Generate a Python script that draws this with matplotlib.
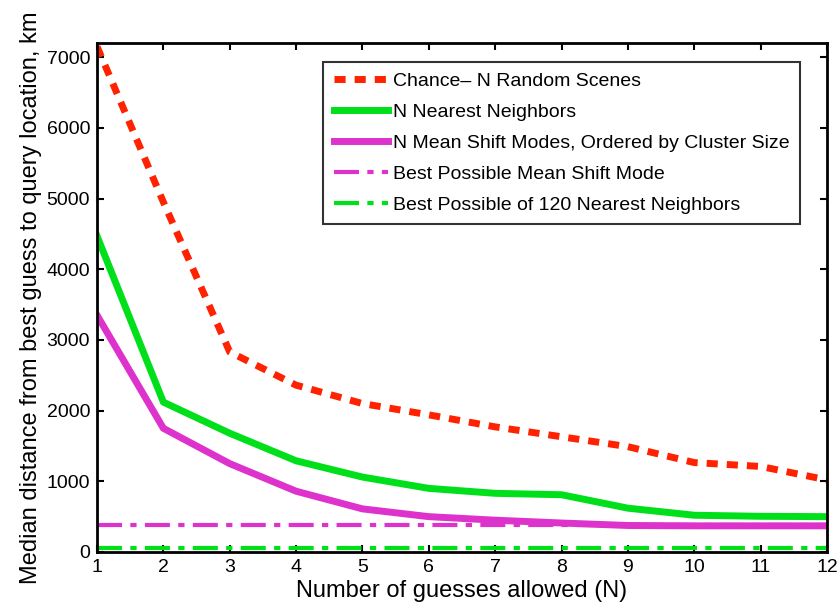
import matplotlib
matplotlib.use("Agg")
import matplotlib.pyplot as plt
import numpy as np

plt.rcParams['font.family'] = ['Liberation Sans', 'DejaVu Sans']

N = [1, 2, 3, 4, 5, 6, 7, 8, 9, 10, 11, 12]
chance = [7150, 4950, 2830, 2360, 2100, 1940, 1770, 1630, 1490, 1265, 1210, 1020]
nearest = [4470, 2120, 1680, 1290, 1060, 900, 830, 810, 620, 520, 505, 500]
meanshift = [3350, 1750, 1250, 860, 610, 500, 450, 410, 375, 370, 370, 370]
best_ms = 380
best_nn = 60

xticks = list(range(1, 13))
yticks = [0, 1000, 2000, 3000, 4000, 5000, 6000, 7000]

fig = plt.figure(figsize=(8.39, 6.06), dpi=100)
ax = fig.add_axes([97/839, 1-552/606, (827-97)/839, (552-43)/606])

ax.plot(N, chance, color='#ff2200', lw=5, ls=(0, (1.6, 1.3)), label='Chance\u2013 N Random Scenes')
ax.plot(N, nearest, color='#00e01a', lw=5, label='N Nearest Neighbors')
ax.plot(N, meanshift, color='#dd33cc', lw=5, label='N Mean Shift Modes, Ordered by Cluster Size')
ax.plot([N[0], N[-1]], [best_ms, best_ms], color='#dd33cc', lw=3, ls=(0, (6, 2, 1.5, 2)), label='Best Possible Mean Shift Mode')
ax.plot([N[0], N[-1]], [best_nn, best_nn], color='#00e01a', lw=3, ls=(0, (6, 2, 1.5, 2)), label='Best Possible of 120 Nearest Neighbors')

ax.set_xlim(1, 12)
ax.set_ylim(0, 7200)
ax.set_xticks(xticks)
ax.set_yticks(yticks)
ax.tick_params(direction='in', top=True, right=True, length=5, width=1.5, labelsize=14, colors='black', pad=5)
for s in ax.spines.values():
    s.set_linewidth(2)

ax.set_xlabel('Number of guesses allowed (N)', fontsize=17, labelpad=3)
ax.set_ylabel('Median distance from best guess to query location, km', fontsize=17, labelpad=3)

leg = ax.legend(loc='upper left', bbox_to_anchor=((323-97)/730, 1-(62-43)/509), fontsize=14,
                frameon=True, fancybox=False, edgecolor='black', handlelength=2.8,
                handletextpad=0.25, borderpad=0.55, labelspacing=0.68, borderaxespad=0)
leg.get_frame().set_linewidth(1.5)

fig.savefig('out.png', dpi=100)
